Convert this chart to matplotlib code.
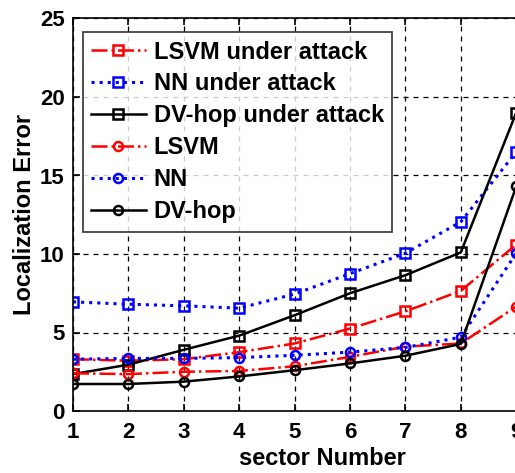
import matplotlib
matplotlib.use("Agg")
import matplotlib.pyplot as plt

sectors = [1, 2, 3, 4, 5, 6, 7, 8, 9]
lsvm_attack = [3.3, 3.2, 3.3, 3.75, 4.3, 5.25, 6.35, 7.65, 10.6]
nn_attack = [6.95, 6.8, 6.7, 6.55, 7.45, 8.75, 10.05, 12.05, 16.5]
dv_attack = [2.35, 2.95, 3.9, 4.8, 6.1, 7.5, 8.65, 10.1, 19.0]
lsvm = [2.4, 2.35, 2.5, 2.55, 2.85, 3.45, 4.1, 4.3, 6.65]
nn = [3.3, 3.35, 3.35, 3.4, 3.55, 3.75, 4.05, 4.7, 10.05]
dv = [1.72, 1.72, 1.87, 2.2, 2.6, 3.03, 3.52, 4.27, 14.3]

plt.rcParams['font.family'] = ['Liberation Sans', 'DejaVu Sans']
plt.rcParams['font.weight'] = 'bold'

fig = plt.figure(figsize=(5.15, 4.73), dpi=100)
ax = fig.add_axes([73/515, 62/473, 498.6/515, 392.5/473])

ms = 6.5
mew = 1.8
lw = 1.8
ax.plot(sectors, lsvm_attack, color='red', ls='-.', marker='s', mfc='none', ms=ms, mew=mew, lw=lw, label='LSVM under attack')
ax.plot(sectors, nn_attack, color='blue', ls=':', marker='s', mfc='none', ms=ms, mew=mew, lw=2.2, label='NN under attack')
ax.plot(sectors, dv_attack, color='black', ls='-', marker='s', mfc='none', ms=ms, mew=mew, lw=lw, label='DV-hop under attack')
ax.plot(sectors, lsvm, color='red', ls='-.', marker='o', mfc='none', ms=ms, mew=mew, lw=lw, label='LSVM')
ax.plot(sectors, nn, color='blue', ls=':', marker='o', mfc='none', ms=ms, mew=mew, lw=2.2, label='NN')
ax.plot(sectors, dv, color='black', ls='-', marker='o', mfc='none', ms=ms, mew=mew, lw=lw, label='DV-hop')

ax.set_xlim(1, 10)
ax.set_ylim(0, 25)
ax.set_xticks(range(1, 11))
ax.set_yticks([0, 5, 10, 15, 20, 25])
ax.grid(True, color='black', ls=(0, (4, 4)), lw=0.9)
ax.tick_params(direction='in', labelsize=16, length=5, width=1.2, top=True, right=True, pad=6)
ax.tick_params(axis='x', pad=8)
for lab in ax.get_xticklabels() + ax.get_yticklabels():
    lab.set_fontweight('bold')
for s in ax.spines.values():
    s.set_linewidth(1.2)

ax.set_xlabel('sector Number', fontsize=17, fontweight='bold', labelpad=3)
ax.set_ylabel('Localization Error', fontsize=17, fontweight='bold', labelpad=3)

leg = ax.legend(loc='upper left', fontsize=17, frameon=True, fancybox=False, edgecolor='black',
                borderpad=0.35, labelspacing=0.38, handlelength=2.3, handletextpad=0.35,
                bbox_to_anchor=(0.02, 0.965), borderaxespad=0)
leg.get_frame().set_linewidth(1.2)
for t in leg.get_texts():
    t.set_fontweight('bold')

fig.savefig('out.png', dpi=100)
